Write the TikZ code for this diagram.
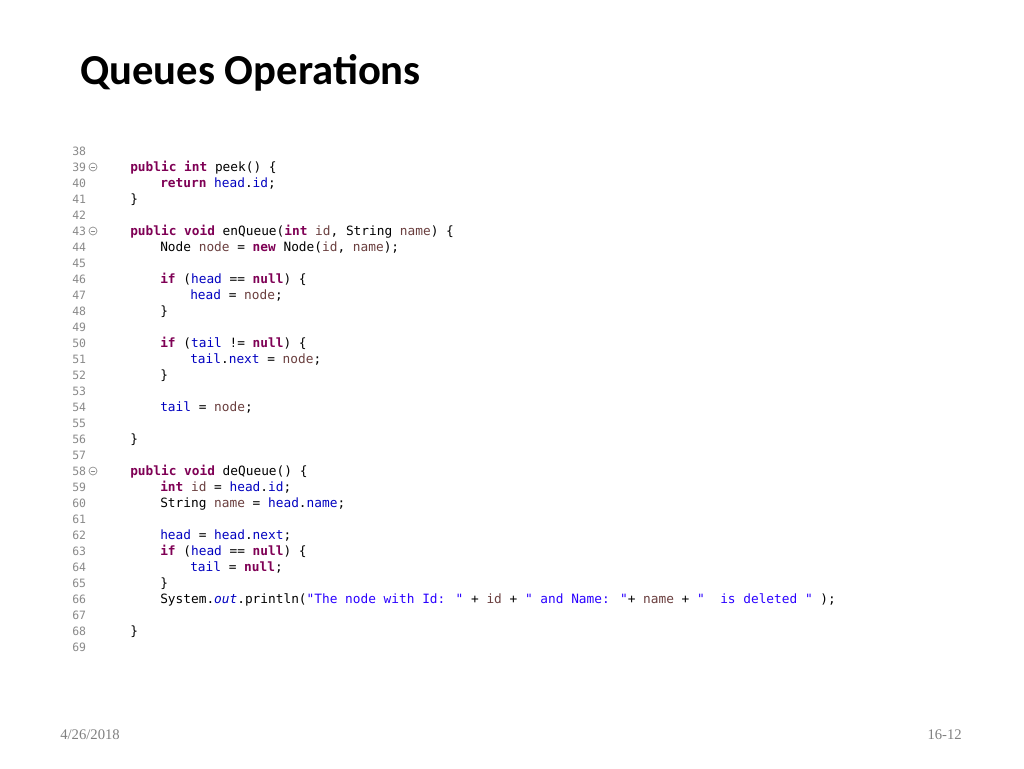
\documentclass[tikz,border=0pt]{standalone}
\usepackage{fontspec}
\setmainfont{Liberation Serif}
\newfontfamily\titlefont{Carlito}
\newfontfamily\codefont{DejaVu Sans Mono}
\usepackage{tikz}
\definecolor{kwcol}{HTML}{7F0055}
\definecolor{fldcol}{HTML}{0000C0}
\definecolor{strcol}{HTML}{2A00FF}
\definecolor{varcol}{HTML}{6A3E3E}
\definecolor{numcol}{HTML}{8A8A8A}
\newcommand{\kw}[1]{\textcolor{kwcol}{\textbf{#1}}}
\newcommand{\fld}[1]{\textcolor{fldcol}{#1}}
\newcommand{\strg}[1]{\textcolor{strcol}{#1}}
\newcommand{\vr}[1]{\textcolor{varcol}{#1}}
\tikzset{
  codeline/.style={anchor=base west, inner sep=0pt, font=\codefont\fontsize{9.6}{11}\selectfont},
  linenum/.style={anchor=base west, inner sep=0pt, text=numcol, font=\codefont\fontsize{8.6}{10}\selectfont},
  foldmark/.style={draw=numcol, line width=0.5pt, circle, minimum size=6pt, inner sep=0pt}
}
\newcommand{\codeln}[3]{% number, indent, text
  \pgfmathsetmacro{\yy}{171+(#1-39)*16}
  \node[linenum] (n#1) at (72,\yy) {#1};
  \node[codeline] (c#1) at (130+30*#2,\yy) {#3};
}
\begin{document}
\begin{tikzpicture}[x=0.75pt,y=-0.75pt]
\useasboundingbox[fill=white] (0,0) rectangle (1024,768);
\node[anchor=base west, inner sep=0pt, font=\titlefont\bfseries\fontsize{32}{38}\selectfont] (title) at (80,84) {Queues Operations};
% code listing
\begin{scope}
\clip (60,146) rectangle (900,700);
\codeln{38}{0}{}
\codeln{39}{0}{\kw{public} \kw{int} peek() \{}
\codeln{40}{1}{\kw{return} \fld{head}.\fld{id};}
\codeln{41}{0}{\}}
\codeln{42}{0}{}
\codeln{43}{0}{\kw{public} \kw{void} enQueue(\kw{int} \vr{id}, String \vr{name}) \{}
\codeln{44}{1}{Node \vr{node} = \kw{new} Node(\vr{id}, \vr{name});}
\codeln{45}{0}{}
\codeln{46}{1}{\kw{if} (\fld{head} == \kw{null}) \{}
\codeln{47}{2}{\fld{head} = \vr{node};}
\codeln{48}{1}{\}}
\codeln{49}{0}{}
\codeln{50}{1}{\kw{if} (\fld{tail} != \kw{null}) \{}
\codeln{51}{2}{\fld{tail}.\fld{next} = \vr{node};}
\codeln{52}{1}{\}}
\codeln{53}{0}{}
\codeln{54}{1}{\fld{tail} = \vr{node};}
\codeln{55}{0}{}
\codeln{56}{0}{\}}
\codeln{57}{0}{}
\codeln{58}{0}{\kw{public} \kw{void} deQueue() \{}
\codeln{59}{1}{\kw{int} \vr{id} = \fld{head}.\fld{id};}
\codeln{60}{1}{String \vr{name} = \fld{head}.\fld{name};}
\codeln{61}{0}{}
\codeln{62}{1}{\fld{head} = \fld{head}.\fld{next};}
\codeln{63}{1}{\kw{if} (\fld{head} == \kw{null}) \{}
\codeln{64}{2}{\fld{tail} = \kw{null};}
\codeln{65}{1}{\}}
\codeln{66}{1}{System.\fld{\textit{out}}.println(\strg{"The node with Id: "} + \vr{id} + \strg{" and Name: "}+ \vr{name} + \strg{"\ \ is deleted "} );}
\codeln{67}{0}{}
\codeln{68}{0}{\}}
\codeln{69}{0}{}
\end{scope}
% fold markers
\foreach \ln in {39,43,58}{
  \node[foldmark] (f\ln) at (93,{167+(\ln-39)*16}) {};
  \draw[numcol, line width=0.5pt] ([xshift=-1.8pt]f\ln.center) -- ([xshift=1.8pt]f\ln.center);
}
% footer
\node[anchor=base west, inner sep=0pt, text=gray, font=\fontsize{11}{13}\selectfont] (date) at (60,739) {4/26/2018};
\node[anchor=base east, inner sep=0pt, text=gray, font=\fontsize{11}{13}\selectfont] (page) at (962,739) {16-12};
\end{tikzpicture}
\end{document}
